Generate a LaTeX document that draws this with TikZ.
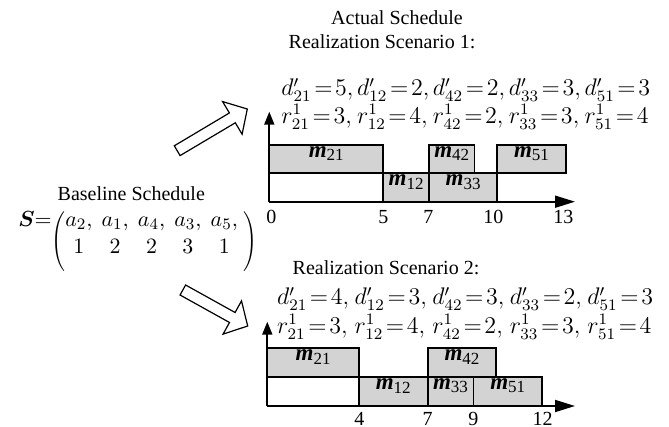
\documentclass[tikz,border=0pt]{standalone}
\usepackage{amsmath}
\usepackage{bm}
\usepackage{fontspec}
\setmainfont{Liberation Serif}
\usetikzlibrary{arrows.meta,fit}
\definecolor{boxgray}{RGB}{211,211,211}
\newcommand{\mlbl}[1]{\textbf{\textit{m}}\raisebox{-1.7pt}{\fontsize{8.5}{9}\selectfont #1}}
\newcommand{\itm}[2]{\makebox[#1][l]{$#2$}}
\newcommand{\eqq}{\!=\!}
\begin{document}
\begin{tikzpicture}[x=0.5pt,y=-0.5pt,
  task/.style={draw, line width=0.9pt, fill=boxgray, inner sep=0pt, font=\fontsize{11.5}{12}\selectfont},
  axisline/.style={line width=0.9pt},
  yhead/.style={-{Triangle[length=6.5pt,width=5pt]}},
  xhead/.style={-{Triangle[length=10pt,width=6pt]}},
  ticklbl/.style={anchor=base, inner sep=0pt, font=\fontsize{10}{12}\selectfont},
  title/.style={anchor=base, inner sep=0pt, font=\fontsize{10}{12}\selectfont},
  mathline/.style={anchor=base west, inner sep=0pt, font=\fontsize{12}{14}\selectfont},
  hollow/.style={draw, line width=0.6pt, fill=white, line join=miter}]
\useasboundingbox (0,0) rectangle (669,427);

% titles
\node[title] (actual) at (397,25) {Actual Schedule};
\node[title] (scen1) at (382,48.3) {Realization Scenario 1:};
\node[title] (scen2) at (386,275) {Realization Scenario 2:};
\node[title] (base) at (131.3,200.7) {Baseline Schedule};

% baseline schedule matrix
\node[anchor=base west, inner sep=0pt, font=\fontsize{11}{13.6}\selectfont] (seq) at (18,226.7) {$\bm{S}{=}$};
\node[anchor=west, inner sep=0pt, font=\fontsize{11}{13.6}\selectfont] (smat) at (51,239.7)
  {$\setlength\arraycolsep{2.3pt}\scalebox{0.8}[0.91]{$\Biggl($}\raisebox{3.4pt}{$\begin{matrix} a_2, & a_1, & a_4, & a_3, & a_5,\\ 1 & 2 & 2 & 3 & 1\end{matrix}$}\;\scalebox{0.8}[0.91]{$\Biggr)$}$};

% hollow arrows
\draw[hollow] (180.1,155.6) -- (174.3,145.8) -- (229.4,112.96) -- (222.6,101.6) -- (247.3,109)
  -- (242.1,134.2) -- (235.3,122.8) -- cycle;
\draw[hollow] (180.06,295.0) -- (185.6,285) -- (235.1,312.5) -- (241.5,300.9) -- (247.7,326)
  -- (223.1,334.1) -- (229.5,322.5) -- cycle;

% scenario 1 texts
\node[mathline] (d1) at (281,96)
  {\itm{37.9pt}{d'_{21}\eqq5,}\itm{37.9pt}{d'_{12}\eqq2,}\itm{37.9pt}{d'_{42}\eqq2,}\itm{37.9pt}{d'_{33}\eqq3,}$d'_{51}\eqq3$};
\node[mathline] (r1) at (281,123.3)
  {\itm{37.9pt}{r^1_{21}\eqq3,}\itm{37.9pt}{r^1_{12}\eqq4,}\itm{37.9pt}{r^1_{42}\eqq2,}\itm{37.9pt}{r^1_{33}\eqq3,}$r^1_{51}\eqq4$};

% scenario 1 chart
\begin{scope}[shift={(269.3,0)}]
  \node[task, fit={(0,145) (114,173.3)}] (a21) {\mlbl{21}};
  \node[task, fit={(159.6,145) (205.2,173.3)}] (a42) {\mlbl{42}};
  \node[task, fit={(228,145) (296.4,173.3)}] (a51) {\mlbl{51}};
  \node[task, fit={(114,173.3) (159.6,201.7)}] (a12) {\mlbl{12}};
  \node[task, fit={(159.6,173.3) (228,201.7)}] (a33) {\mlbl{33}};
  \coordinate (o1) at (0,201.7);
  \coordinate (ytip1) at (0,111.7);
  \coordinate (xtip1) at (305.7,201.7);
  \draw[axisline, yhead] (o1) -- (ytip1);
  \draw[axisline, xhead] (o1) -- (xtip1);
  \node[ticklbl] (l10) at (2,224) {0};
  \node[ticklbl] (l15) at (114,224) {5};
  \node[ticklbl] (l17) at (159,224) {7};
  \node[ticklbl] (l110) at (224,224) {10};
  \node[ticklbl] (l113) at (294,224) {13};
\end{scope}

% scenario 2 texts
\node[mathline] (d2) at (276.7,305)
  {\itm{38.8pt}{d'_{21}\eqq4,}\itm{38.8pt}{d'_{12}\eqq3,}\itm{38.8pt}{d'_{42}\eqq3,}\itm{38.8pt}{d'_{33}\eqq2,}$d'_{51}\eqq3$};
\node[mathline] (r2) at (276.7,333.3)
  {\itm{38.8pt}{r^1_{21}\eqq3,}\itm{38.8pt}{r^1_{12}\eqq4,}\itm{38.8pt}{r^1_{42}\eqq2,}\itm{38.8pt}{r^1_{33}\eqq3,}$r^1_{51}\eqq4$};

% scenario 2 chart
\begin{scope}[shift={(267.3,0)}]
  \node[task, fit={(0,348.3) (91.6,376.7)}] (b21) {\mlbl{21}};
  \node[task, fit={(160.3,348.3) (229,376.7)}] (b42) {\mlbl{42}};
  \node[task, fit={(91.6,376.7) (160.3,406)}] (b12) {\mlbl{12}};
  \node[task, fit={(160.3,376.7) (206.1,406)}] (b33) {\mlbl{33}};
  \node[task, fit={(206.1,376.7) (274.8,406)}] (b51) {\mlbl{51}};
  \coordinate (o2) at (0,406);
  \coordinate (ytip2) at (0,321.7);
  \coordinate (xtip2) at (307.7,406);
  \draw[axisline, yhead] (o2) -- (ytip2);
  \draw[axisline, xhead] (o2) -- (xtip2);
  \node[ticklbl] (l24) at (92,425.2) {4};
  \node[ticklbl] (l27) at (160.4,425.2) {7};
  \node[ticklbl] (l29) at (206,425.2) {9};
  \node[ticklbl] (l212) at (275.4,425.2) {12};
\end{scope}
\end{tikzpicture}
\end{document}
